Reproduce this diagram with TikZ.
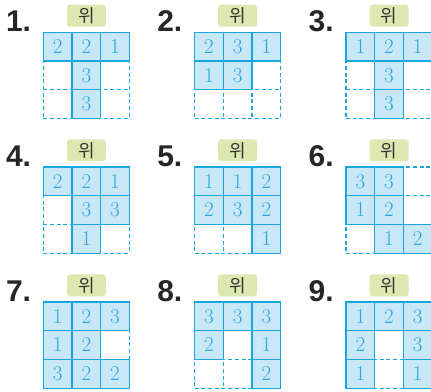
\documentclass[tikz,border=0pt]{standalone}
\usepackage{fontspec}
\newfontfamily\krfont{Noto Sans CJK KR}
\newfontfamily\numfont{Liberation Sans}
\definecolor{lineblue}{HTML}{18A6E0}
\definecolor{cellblue}{HTML}{C8E8F8}
\definecolor{digitblue}{HTML}{2BA5DE}
\definecolor{wibox}{HTML}{DCE8AF}
\begin{document}
\begin{tikzpicture}[x=1pt,y=-1pt,
  cellempty/.style={minimum width=28.7pt, minimum height=28.7pt, inner sep=0pt},
  cellfull/.style={draw=lineblue, fill=cellblue, line width=1.2pt,
    minimum width=28.7pt, minimum height=28.7pt, inner sep=0pt,
    text=digitblue, font=\fontsize{21}{21}\selectfont},
  gridline/.style={draw=lineblue, line width=1.2pt, dash pattern=on 4pt off 2.7pt},
  numstyle/.style={inner sep=0pt, anchor=base west, text=black!85,
    font=\numfont\bfseries\fontsize{30}{30}\selectfont},
  wistyle/.style={fill=wibox, rounded corners=3pt, minimum width=39pt,
    minimum height=22pt, inner sep=0pt, text=black!80,
    font=\krfont\fontsize{18}{18}\selectfont}
]
\useasboundingbox (0,0) rectangle (431,391);
\foreach \g/\gx/\gy/\vals in {
  1/43.3/32.3/{2,2,1,0,3,0,0,3,0},
  2/194.6/32.3/{2,3,1,1,3,0,0,0,0},
  3/346/32.3/{1,2,1,0,3,0,0,3,0},
  4/43.3/167/{2,2,1,0,3,3,0,1,0},
  5/194.6/167/{1,1,2,2,3,2,0,0,1},
  6/346/167/{3,3,0,1,2,0,0,1,2},
  7/43.3/302/{1,2,3,1,2,0,3,2,2},
  8/194.6/302/{3,3,3,2,0,1,0,0,2},
  9/346/302/{1,2,3,2,0,3,1,0,1}}{
  \node[numstyle] (n\g) at (\gx-37.5,\gy-1) {\g.};
  \node[wistyle] (w\g) at (\gx+43.05,\gy-16.6) {위};
  % dashed 3x3 grid underneath
  \foreach \ii in {0,1,2,3} {
    \draw[gridline] (\gx,\gy+\ii*28.7) -- (\gx+86.1,\gy+\ii*28.7);
    \draw[gridline] (\gx+\ii*28.7,\gy) -- (\gx+\ii*28.7,\gy+86.1);
  }
  \foreach \v [count=\kk from 0] in \vals {
    \pgfmathtruncatemacro\rr{floor(\kk/3)+1}
    \pgfmathtruncatemacro\cc{mod(\kk,3)+1}
    \pgfmathsetmacro\cx{\gx+(\cc-0.5)*28.7}
    \pgfmathsetmacro\cy{\gy+(\rr-0.5)*28.7}
    \ifnum\v=0
      \node[cellempty] (c\g-\rr-\cc) at (\cx,\cy) {};
    \else
      \node[cellfull] (c\g-\rr-\cc) at (\cx,\cy) {\v};
    \fi
  }
}
\end{tikzpicture}
\end{document}
